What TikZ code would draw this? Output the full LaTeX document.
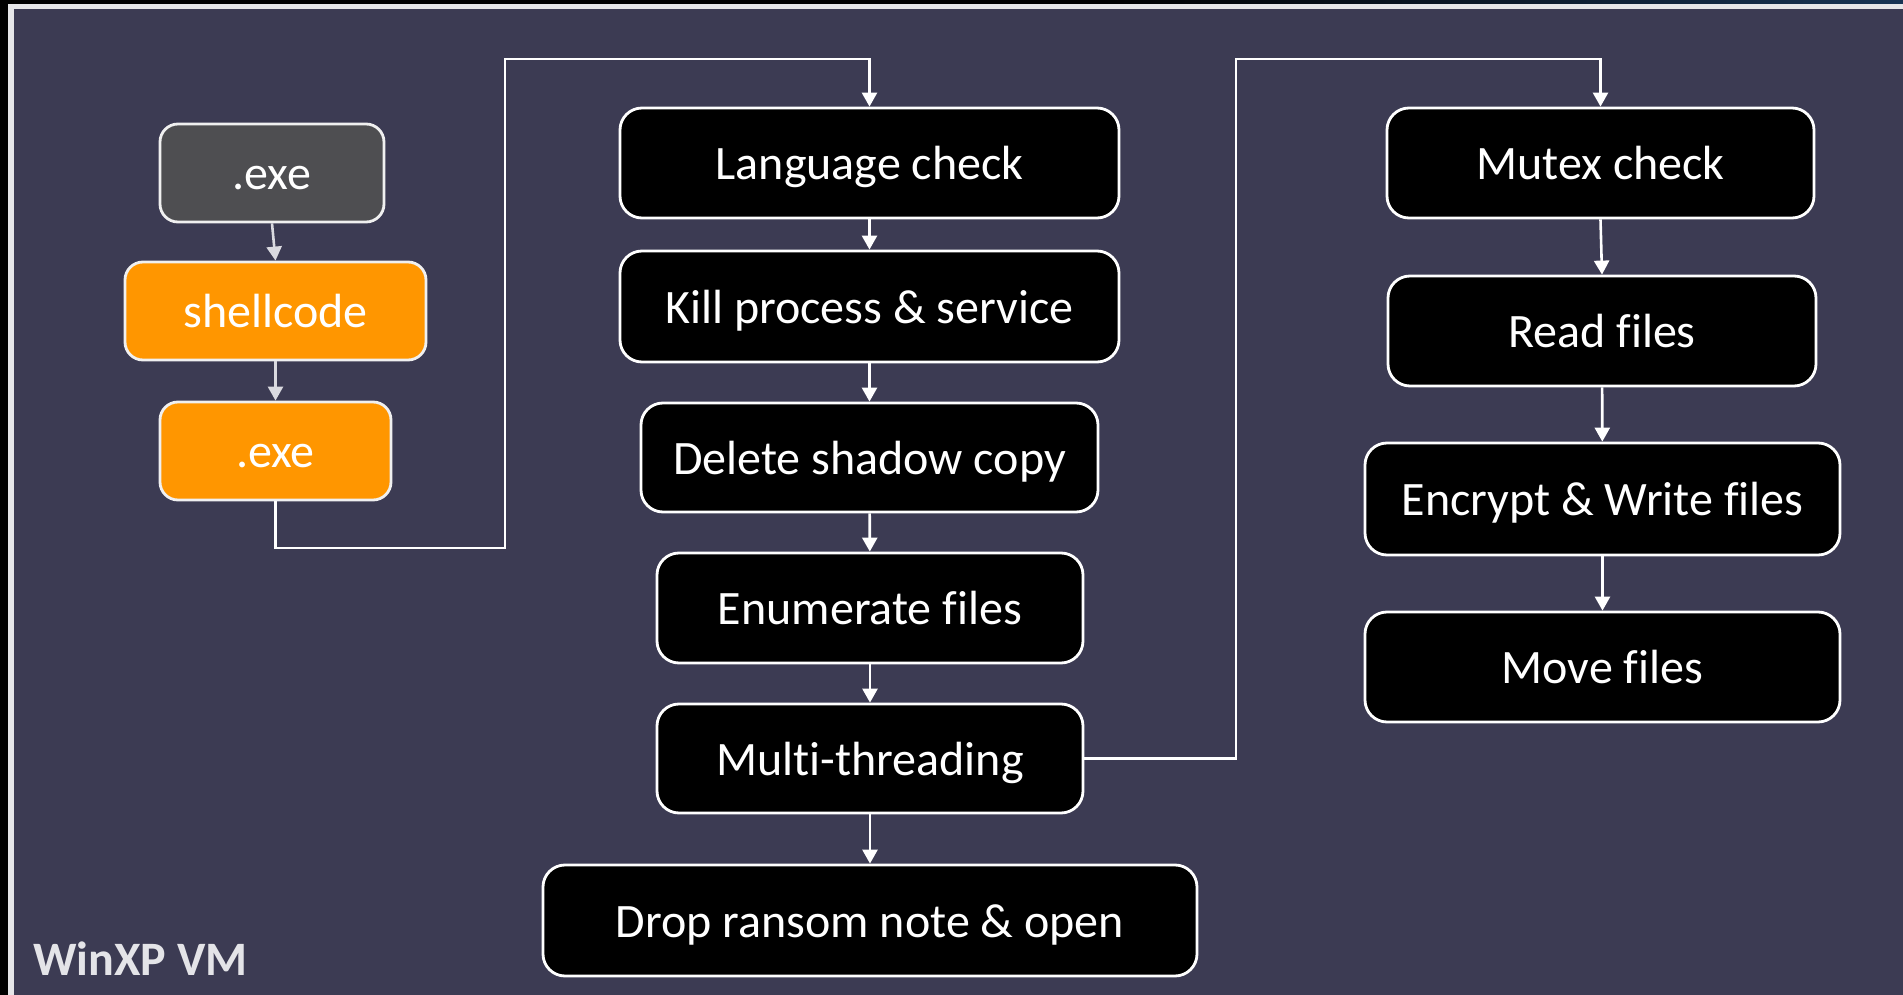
\documentclass[tikz,border=0pt]{standalone}
\usepackage{fontspec}
\setmainfont[Ligatures={NoCommon}]{Carlito}
\usetikzlibrary{arrows.meta}

\definecolor{navy}{RGB}{60,59,83}
\definecolor{frameline}{RGB}{230,230,232}
\definecolor{exegray}{RGB}{78,78,81}
\definecolor{amber}{RGB}{255,150,0}
\definecolor{softwhite}{RGB}{218,218,224}
\definecolor{labelgray}{RGB}{228,228,232}
\definecolor{deepblue}{RGB}{24,52,84}

\tikzset{
  stepbox/.style={draw=white, line width=1.4pt, fill=black, rounded corners=11pt,
    text=white, font=\fontsize{24}{28}\selectfont, inner sep=0pt, align=center,
    text height=16.5pt, text depth=0pt},
  leftbox/.style={stepbox, draw=white!94!black, rounded corners=9pt},
  conn/.style={draw=white, line width=1.3pt, -{Triangle[width=7.5pt,length=7pt]}},
  leftconn/.style={conn, draw=softwhite, fill=softwhite},
}

\begin{document}
\begin{tikzpicture}[x=0.5pt, y=-0.5pt]
  \useasboundingbox (0,0) rectangle (1903,995);

  % window background, frame and canvas
  \fill[black] (0,0) rectangle (1903,995);
  \shade[left color=black, right color=deepblue] (1100,0) rectangle (1903,4);
  \fill[frameline] (8,4) rectangle (1903,995);
  \fill[navy] (14,9) rectangle (1903,995);

  % loader column
  \node[leftbox, fill=exegray, minimum width=112pt, minimum height=49pt] (exe1) at (272,173) {.exe};
  \node[leftbox, fill=amber, minimum width=150.5pt, minimum height=49pt] (shell) at (275.5,311) {shellcode};
  \node[leftbox, fill=amber, minimum width=115.5pt, minimum height=49pt] (exe2) at (275.5,451) {.exe};

  % main routine
  \node[stepbox, minimum width=249.5pt, minimum height=55pt] (lang) at (869.5,163) {Language check};
  \node[stepbox, minimum width=249.5pt, minimum height=55.5pt] (kill) at (869.5,306.5) {Kill process \& service};
  \node[stepbox, minimum width=228.5pt, minimum height=54.5pt] (shadow) at (869.5,457.5) {Delete shadow copy};
  \node[stepbox, minimum width=213pt, minimum height=55pt] (enum) at (870,608) {Enumerate files};
  \node[stepbox, minimum width=213pt, minimum height=54.5pt] (multi) at (870,758.5) {Multi-threading};
  \node[stepbox, minimum width=327pt, minimum height=55.5pt] (drop) at (870,920.5) {Drop ransom note \& open};

  % worker threads
  \node[stepbox, minimum width=213.5pt, minimum height=55pt] (mutex) at (1600.5,163) {Mutex check};
  \node[stepbox, minimum width=214pt, minimum height=55pt] (read) at (1602,331) {Read files};
  \node[stepbox, minimum width=237.5pt, minimum height=56pt] (encrypt) at (1602.5,499) {Encrypt \& Write files};
  \node[stepbox, minimum width=237.5pt, minimum height=55pt] (move) at (1602.5,667) {Move files};

  % caption
  \node[anchor=base west, inner sep=0pt, text=labelgray,
        font=\fontsize{24}{28}\selectfont\bfseries] (vm) at (33,975) {WinXP VM};

  % routing points
  \coordinate (j1) at (505,548);
  \coordinate (j2) at (505,59);
  \coordinate (j3) at (1236,758.5);
  \coordinate (j4) at (1236,59);

  % connectors
  \draw[leftconn] (exe1.south) -- (shell.north);
  \draw[leftconn] (shell.south) -- (exe2.north);
  \draw[conn] (exe2.south) |- (j1) -- (j2) -| (lang.north);
  \draw[conn] (lang) -- (kill);
  \draw[conn] (kill) -- (shadow);
  \draw[conn] (shadow) -- (enum);
  \draw[conn] (enum) -- (multi);
  \draw[conn] (multi) -- (drop);
  \draw[conn] (multi.east) -- (j3) -- (j4) -| (mutex.north);
  \draw[conn] (mutex.south) -- (read.north);
  \draw[conn] (read) -- (encrypt);
  \draw[conn] (encrypt) -- (move);
\end{tikzpicture}
\end{document}
